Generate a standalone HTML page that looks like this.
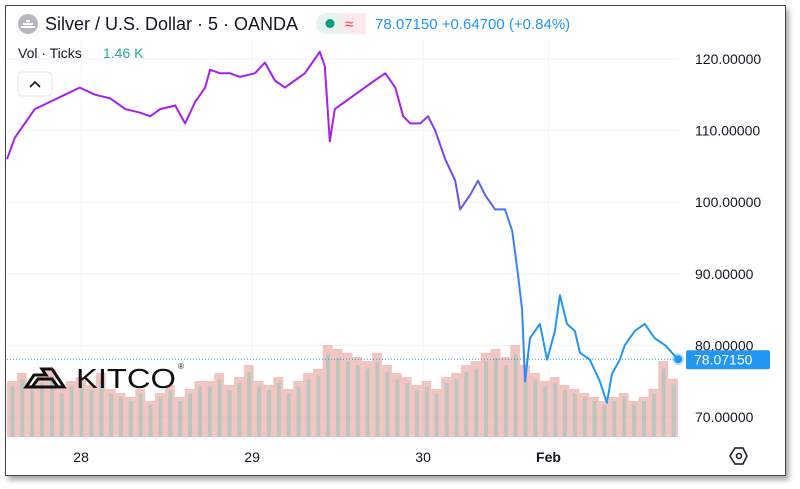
<!DOCTYPE html>
<html><head><meta charset="utf-8"><style>
body{margin:0;width:800px;height:489px;background:#fff;font-family:"Liberation Sans",sans-serif;overflow:hidden}
#frame{position:absolute;left:5px;top:5px;width:779px;height:469px;border:1.5px solid #444;box-shadow:3px 4px 5px rgba(0,0,0,0.35);background:#fff}
svg{position:absolute;left:0;top:0}
</style></head><body>
<div id="frame"></div>
<svg id="chart" width="800" height="489">
<defs><linearGradient id="lg" gradientUnits="userSpaceOnUse" x1="400" y1="0" x2="540" y2="0"><stop offset="0" stop-color="#a51ff2"/><stop offset="1" stop-color="#2196f3"/></linearGradient></defs>
<g id="grid"></g><g id="vol"></g><g id="line"></g><g id="axis"></g>
<g>
<circle cx="28" cy="24" r="10" fill="#b8b4c0"/>
<path d="M21 27h14M23 24h10M26 21h4" stroke="#fff" stroke-width="2"/>
<text x="45" y="30" font-size="18" fill="#131722">Silver / U.S. Dollar · 5 · OANDA</text>
<rect x="316" y="13" width="50" height="21" rx="10" fill="#e5f4ef"/>
<rect x="341" y="13" width="25" height="21" rx="0" fill="#fde8ea"/>
<circle cx="330" cy="23.5" r="4.5" fill="#089981"/>
<text x="345" y="29" font-size="15" fill="#f23645">≈</text>
<text x="375" y="29" font-size="15" fill="#2196f3">78.07150  +0.64700 (+0.84%)</text>
<text x="18" y="58" font-size="14" fill="#131722">Vol · Ticks</text>
<text x="103" y="58" font-size="14" fill="#22ab94">1.46 K</text>
<rect x="18" y="72" width="34" height="24" rx="4" fill="#fff" stroke="#e0e3eb"/>
<path d="M30 87l5-5 5 5" fill="none" stroke="#131722" stroke-width="1.6"/>
</g>
<g>
<path d="M26 387l8-12h12l-4-6h10l12 18z M32 387l6-8h14l6 8z" fill="none" stroke="#111" stroke-width="3"/>
<text x="76" y="388" font-size="28" fill="#111" textLength="100" lengthAdjust="spacingAndGlyphs">KITCO</text>
<text x="178" y="369" font-size="8" fill="#111">®</text>
</g>
<g><polygon points="730,456 735,448 743,448 747,456 743,464 735,464" fill="none" stroke="#131722" stroke-width="1.5"/><circle cx="739" cy="456" r="2.5" fill="none" stroke="#131722" stroke-width="1.5"/></g>
</svg>
<script>
const hours=[0,1.1,2.5,3.9,6.0,8.1,10.2,12.4,14.5,16.6,18.7,20.1,21.5,23.6,25.0,26.4,27.8,28.5,29.9,31.3,32.7,34.8,36.2,37.6,39.0,40.4,41.8,43.2,43.9,44.6,45.3,46.0,47.4,48.8,50.2,51.6,53.1,54.5,55.6,56.6,58.0,59.1,60.1,61.5,62.9,63.6,64.3,65.0,66.1,67.1,68.5,69.9,70.9,71.7,72.3,72.7,73.4,74.8,75.8,76.9,77.6,78.6,79.7,80.4,81.8,83.2,84.2,84.9,86.0,86.7,88.1,89.5,90.9,92.4,93.3,94.2];
const prices=[106,109,111,113,114,115,116,115,114.5,113,112.5,112,113,113.5,111,114,116,118.5,118,118,117.5,118,119.5,117,116,117,118,120,121,119,108.5,113,114,115,116,117,118,116,112,111,111,112,110,106,103,99,100,101,103,101,99,99,96,90,85,75,81,83,78,82,87,83,82,79,78,75,72,76,78,80,82,83,81,80,79,78.0715];
const volumes=[1.4,1.6,1.3,1.5,1.7,1.2,1.4,1.5,1.3,1.6,1.2,1.1,1.0,1.2,0.9,1.1,1.3,1.0,1.2,1.4,1.4,1.6,1.3,1.5,1.8,1.4,1.3,1.5,1.2,1.4,1.6,1.7,2.3,2.2,2.1,2.0,1.9,2.1,1.8,1.6,1.5,1.3,1.4,1.2,1.5,1.6,1.8,1.9,2.1,2.2,2.0,2.3,1.8,1.6,1.4,1.5,1.3,1.2,1.1,1.0,0.9,1.0,1.1,0.9,1.0,1.2,1.9,1.46];
const yTicks=[120,110,100,90,80,70];
const yTickLabels=["120.00000","110.00000","100.00000","90.00000","80.00000","70.00000"];
const xTicks=[10.4,34.4,58.4,76];
const xTickLabels=["28","29","30","Feb"];
const lastPrice=78.0715;
const NS="http://www.w3.org/2000/svg";
const X0=7,X1=678,PX_H=7.125;
const xs=h=>X0+h*PX_H;
const ys=v=>59+(120-v)*7.16;
const VBASE=437,VSCALE=40;
function el(t,a,p){const e=document.createElementNS(NS,t);for(const k in a)e.setAttribute(k,a[k]);document.getElementById(p).appendChild(e);return e;}
yTicks.forEach((v,i)=>{
 const g=el('line',{x1:X0,x2:X1,y1:ys(v),y2:ys(v),stroke:'#f0f3fa'},'grid');
 
 
 const t=el('text',{x:695,y:ys(v)+5,'font-size':14,fill:'#131722'},'axis');
 t.textContent=yTickLabels[i];
 
 
});
xTicks.forEach((h,i)=>{
 const g=el('line',{x1:xs(h),x2:xs(h),y1:40,y2:VBASE,stroke:'#f0f3fa'},'grid');
 
 
 const t=el('text',{x:xs(h),y:462,'font-size':14,fill:'#131722','text-anchor':'middle','font-weight':i==3?'bold':'normal'},'axis');
 t.textContent=xTickLabels[i];
 
 
});
const bw=(X1-X0)/volumes.length;
volumes.forEach((v,i)=>{
 const h=v*VSCALE,x=X0+i*bw;
 const a=el('rect',{x:x,y:VBASE-h,width:bw,height:h,fill:'rgba(232,150,140,0.55)'},'vol');
 
 
 const b=el('rect',{x:x+bw*0.35,y:VBASE-h*0.9,width:bw*0.4,height:h*0.9,fill:'rgba(120,200,190,0.45)'},'vol');
 
 
});
const d=hours.map((h,i)=>(i?'L':'M')+xs(h).toFixed(1)+' '+ys(prices[i]).toFixed(1)).join(' ');
const p=el('path',{d:d,fill:'none',stroke:'url(#lg)','stroke-width':2,'stroke-linejoin':'round'},'line');


const ly=ys(lastPrice);
const dl=el('line',{x1:X0,x2:X1,y1:ly,y2:ly,stroke:'#2196f3','stroke-dasharray':'1 2'},'line');


const dot=el('circle',{cx:xs(hours[hours.length-1]),cy:ly,r:4,fill:'#2196f3',stroke:'rgba(33,150,243,0.3)','stroke-width':4},'line');


const lb=el('rect',{x:686,y:ly-9,width:84,height:19,rx:2,fill:'#2196f3'},'axis');


const lt=el('text',{x:694,y:ly+5.5,'font-size':14,fill:'#fff'},'axis');
lt.textContent=lastPrice.toFixed(5);


</script>
</body></html>
